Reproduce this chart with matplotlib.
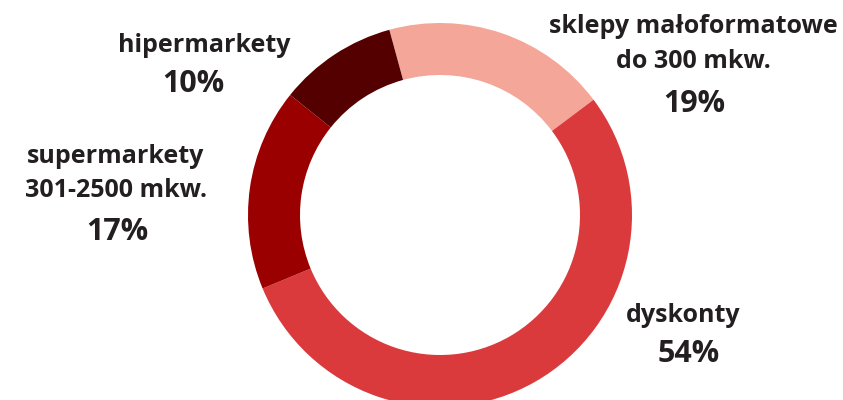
import matplotlib
matplotlib.use('Agg')
import matplotlib.pyplot as plt

# shares of store formats, clockwise from the top
categories = [['sklepy małoformatowe', 'do 300 mkw.'], ['dyskonty'],
              ['supermarkety', '301-2500 mkw.'], ['hipermarkety']]
shares = [19, 54, 17, 10]
colors = ['#F4A698', '#DB3A3C', '#9A0000', '#550000']

# text layout in pixels from the top: name x, name baselines, pct x, pct baseline
name_x = [693, 683, 116, 204]
name_base = [[33, 68], [322], [163, 197], [52]]
pct_x = [694, 689, 117, 193]
pct_base = [112, 362, 240, 92]

H = 400
fig = plt.figure(figsize=(8.43, 4.0), dpi=100)
ax = fig.add_axes([0, 0, 1, 1])

ax.pie(shares, colors=colors, startangle=105.3, counterclock=False,
       center=(440, H - 215), radius=192,
       wedgeprops=dict(width=52, linewidth=0))

ax.set_xlim(0, 843)
ax.set_ylim(0, H)
ax.set_aspect('equal')
ax.axis('off')

font = dict(family='Open Sans', fontweight='bold', color='#231F20',
            ha='center', va='baseline')
for lines, val, nx, nb, px, pb in zip(categories, shares, name_x, name_base,
                                       pct_x, pct_base):
    for line, yb in zip(lines, nb):
        ax.text(nx, H - yb, line, fontsize=18, **font)
    ax.text(px, H - pb, f'{val}%', fontsize=22, **font)

fig.savefig('out.png', dpi=100)
